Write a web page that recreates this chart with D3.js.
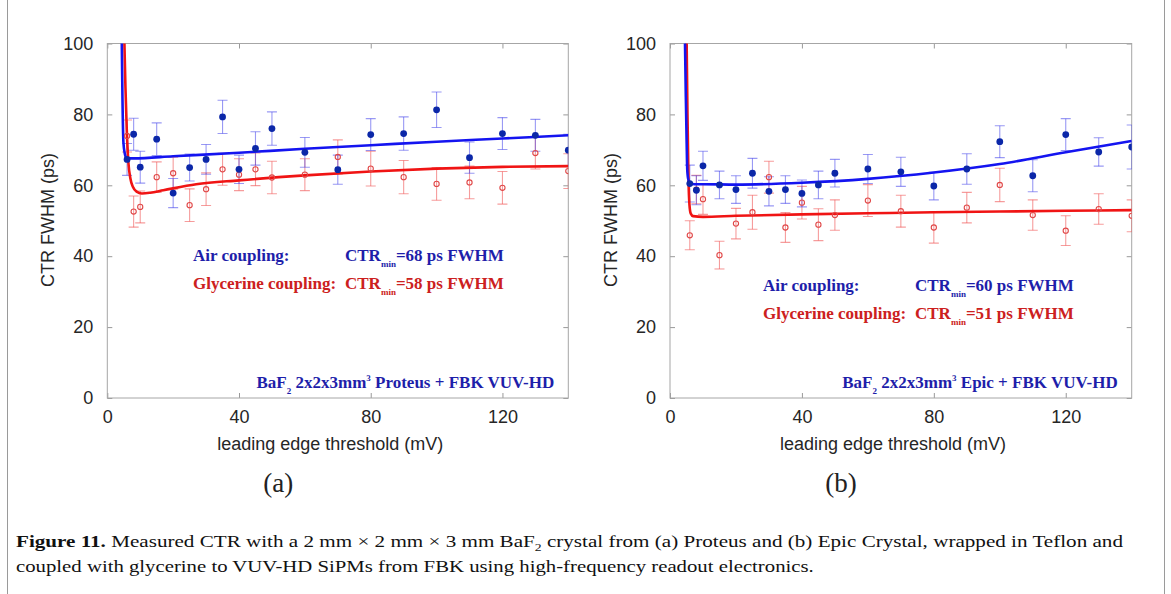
<!DOCTYPE html>
<html>
<head>
<meta charset="utf-8">
<title>CTR vs leading edge threshold</title>
<script src="https://d3js.org/d3.v7.min.js"></script>
<style>
  body { margin: 0; background: #fff; }
  svg { display: block; }
  .tick text { font-family: "Liberation Sans", Arial, sans-serif; }
</style>
</head>
<body>
<div id="chart"></div>
<script>
// thresholds (mV)
var thresholds = [6, 8, 10, 15, 20, 25, 30, 35, 40, 45, 50, 60, 70, 80, 90, 100, 110, 120, 130, 140];

// (a) Proteus
var airA    = [67.3, 74.4, 65.1, 73.0, 57.8, 65.0, 67.3, 79.3, 64.5, 70.4, 76.0, 69.3, 64.4, 74.3, 74.6, 81.3, 67.8, 74.6, 74.1, 69.9];
var airErrA = [4.5, 4.5, 4.5, 4.6, 4.1, 3.8, 4.2, 4.7, 4.0, 4.7, 4.7, 4.2, 4.1, 4.5, 4.7, 5.0, 4.4, 4.5, 4.5, 4.5];
var glyA    = [73.9, 52.6, 53.9, 62.3, 63.4, 54.4, 58.9, 64.5, 63.0, 64.5, 62.2, 63.0, 68.0, 64.7, 62.3, 60.4, 60.8, 59.3, 69.1, 64.0];
var glyErrA = [4.5, 4.4, 4.5, 4.3, 4.5, 4.6, 4.6, 4.5, 4.5, 4.6, 4.6, 4.5, 4.8, 4.9, 4.7, 4.6, 4.6, 4.6, 4.5, 4.9];

// (b) Epic
var airB    = [60.5, 58.6, 65.5, 60.1, 58.8, 63.4, 58.3, 58.8, 57.7, 60.1, 63.4, 64.6, 63.8, 59.8, 64.6, 72.3, 62.7, 74.3, 69.4, 70.8];
var airErrB = [5.2, 4.1, 4.1, 3.9, 3.9, 4.2, 4.1, 3.9, 3.8, 3.9, 3.9, 4.1, 4.1, 3.9, 4.3, 4.5, 4.5, 4.5, 4.0, 6.2];
var glyB    = [45.9, 58.8, 56.1, 40.3, 49.2, 52.4, 62.3, 48.1, 55.1, 48.9, 51.6, 55.7, 52.7, 48.1, 53.7, 60.1, 51.6, 47.2, 53.3, 51.4];
var glyErrB = [4.1, 4.0, 4.3, 3.9, 4.3, 4.8, 4.5, 4.2, 4.6, 4.5, 4.3, 4.5, 4.5, 4.4, 4.3, 4.7, 4.3, 4.2, 4.3, 4.5];

// fitted curves
var fitAirAx = [4.2, 4.4, 4.6, 4.9, 5.3, 5.9, 8, 20, 40, 60, 80, 100, 120, 140];
var fitAirAy = [108, 100, 85, 72, 69, 67.6, 67.6, 68.2, 69.2, 70.3, 71.3, 72.3, 73.2, 74.1];
var fitGlyAx = [5.0, 5.2, 5.5, 5.9, 6.4, 7.0, 7.8, 8.9, 10.5, 13, 17, 27, 40, 60, 80, 100, 120, 140];
var fitGlyAy = [108, 100, 88, 76, 66.5, 62, 59.5, 58.2, 57.7, 57.9, 58.6, 60.3, 61.4, 62.8, 63.9, 64.7, 65.2, 65.4];
var fitAirBx = [4.45, 4.55, 4.8, 5.05, 5.25, 5.6, 6.2, 7.5, 10, 20, 40, 60, 80, 100, 120, 140];
var fitAirBy = [108, 100, 85, 72, 64, 61.5, 60.6, 60.3, 60.3, 60.2, 60.7, 61.8, 63.6, 66.0, 69.3, 72.5];
var fitGlyBx = [4.95, 5.05, 5.3, 5.6, 5.9, 6.3, 7, 10, 20, 40, 60, 80, 100, 120, 140];
var fitGlyBy = [108, 100, 80, 62, 54.5, 52, 51.3, 51.1, 51.4, 51.8, 52.1, 52.4, 52.6, 52.8, 53.0];

var xTicks = [0, 40, 80, 120];
var yTicks = [0, 20, 40, 60, 80, 100];

var W = 1171, H = 594;
var svg = d3.select("#chart").append("svg").attr("width", W).attr("height", H);

// figure frame (left/right rules)
svg.append("line").attr("x1", 7.5).attr("x2", 7.5).attr("y1", 0).attr("y2", H).attr("stroke", "#9a9a9a");
svg.append("line").attr("x1", 1164.5).attr("x2", 1164.5).attr("y1", 0).attr("y2", H).attr("stroke", "#9a9a9a");

var BLUE_LINE = "#1414f0", RED_LINE = "#f01414";
var BLUE_DOT = "#0b27a8", RED_DOT = "#e04848";
var BLUE_ERR = "rgba(70,70,235,0.55)", RED_ERR = "rgba(240,90,90,0.6)";
var BLUE_TXT = "#1e1eaa", RED_TXT = "#cc2020";

function pairs(xs, ys) { return xs.map(function(x, i) { return [x, ys[i]]; }); }

function drawPanel(p) {
    var x = d3.scaleLinear().domain([0, 140]).range([p.left, p.right]);
    var y = d3.scaleLinear().domain([0, 100]).range([398, 43.5]);
    var g = svg.append("g");

    var clipId = "clip" + p.id;
    svg.append("clipPath").attr("id", clipId).append("rect")
        .attr("x", p.left).attr("y", 43.5).attr("width", p.right - p.left).attr("height", 398 - 43.5);

    // axes: ticks inward, box
    g.append("g").attr("transform", "translate(0,398)")
        .call(d3.axisBottom(x).tickValues(xTicks).tickSizeInner(-5).tickSizeOuter(0).tickPadding(12))
        .call(function(a) {
            a.select(".domain").remove();
            a.selectAll("line").attr("stroke", "#999");
            a.selectAll("text").attr("font-size", 18).attr("fill", "#262626");
        });
    g.append("g").attr("transform", "translate(0,43.5)")
        .call(d3.axisTop(x).tickValues(xTicks).tickSizeInner(-5).tickSizeOuter(0).tickFormat(""))
        .call(function(a) { a.select(".domain").remove(); a.selectAll("line").attr("stroke", "#999"); });
    g.append("g").attr("transform", "translate(" + p.left + ",0)")
        .call(d3.axisLeft(y).tickValues(yTicks).tickSizeInner(-5).tickSizeOuter(0).tickPadding(14))
        .call(function(a) {
            a.select(".domain").remove();
            a.selectAll("line").attr("stroke", "#999");
            a.selectAll("text").attr("font-size", 18).attr("fill", "#262626");
        });
    g.append("g").attr("transform", "translate(" + p.right + ",0)")
        .call(d3.axisRight(y).tickValues(yTicks).tickSizeInner(-5).tickSizeOuter(0).tickFormat(""))
        .call(function(a) { a.select(".domain").remove(); a.selectAll("line").attr("stroke", "#999"); });
    g.append("rect").attr("x", p.left).attr("y", 43.5).attr("width", p.right - p.left).attr("height", 398 - 43.5)
        .attr("fill", "none").attr("stroke", "#a6a6a6").attr("stroke-width", 1);

    // axis titles
    g.append("text").attr("x", p.left + 223).attr("y", 450).attr("text-anchor", "middle")
        .attr("font-family", "Liberation Sans, Arial, sans-serif").attr("font-size", 18).attr("fill", "#262626")
        .text("leading edge threshold (mV)");
    g.append("text").attr("transform", "translate(" + (p.left - 53) + ",220) rotate(-90)")
        .attr("text-anchor", "middle")
        .attr("font-family", "Liberation Sans, Arial, sans-serif").attr("font-size", 18).attr("fill", "#262626")
        .text("CTR FWHM (ps)");
    g.append("text").attr("x", p.left + 171).attr("y", 492).attr("text-anchor", "middle")
        .attr("font-family", "Liberation Serif, DejaVu Serif, serif").attr("font-size", 27).attr("fill", "#222")
        .text(p.tag);

    var plot = g.append("g").attr("clip-path", "url(#" + clipId + ")");

    function errorBars(vals, errs, color) {
        var eb = plot.append("g").attr("stroke", color).attr("stroke-width", 1.1).attr("fill", "none");
        thresholds.forEach(function(t, i) {
            var cx = x(t), y1 = y(vals[i] + errs[i]), y2 = y(vals[i] - errs[i]);
            eb.append("line").attr("x1", cx).attr("x2", cx).attr("y1", y1).attr("y2", y2);
            eb.append("line").attr("x1", cx - 5).attr("x2", cx + 5).attr("y1", y1).attr("y2", y1);
            eb.append("line").attr("x1", cx - 5).attr("x2", cx + 5).attr("y1", y2).attr("y2", y2);
        });
    }
    errorBars(p.gly, p.glyErr, RED_ERR);
    errorBars(p.air, p.airErr, BLUE_ERR);

    var line = d3.line().x(function(d) { return x(d[0]); }).y(function(d) { return y(d[1]); })
        .curve(d3.curveMonotoneX);
    plot.append("path").datum(pairs(p.fitGlyX, p.fitGlyY)).attr("d", line)
        .attr("fill", "none").attr("stroke", RED_LINE).attr("stroke-width", 2.6);
    plot.append("path").datum(pairs(p.fitAirX, p.fitAirY)).attr("d", line)
        .attr("fill", "none").attr("stroke", BLUE_LINE).attr("stroke-width", 2.6);

    plot.selectAll("circle.gly").data(p.gly).enter().append("circle").attr("class", "gly")
        .attr("cx", function(d, i) { return x(thresholds[i]); }).attr("cy", function(d) { return y(d); })
        .attr("r", 2.6).attr("fill", "none").attr("stroke", RED_DOT).attr("stroke-width", 1.1);
    plot.selectAll("circle.air").data(p.air).enter().append("circle").attr("class", "air")
        .attr("cx", function(d, i) { return x(thresholds[i]); }).attr("cy", function(d) { return y(d); })
        .attr("r", 3.4).attr("fill", BLUE_DOT);

    // annotations
    var serif = "Liberation Serif, Times New Roman, serif";
    function ctrLine(xl, xc, yb, label, val, color) {
        g.append("text").attr("x", xl).attr("y", yb).attr("font-family", serif).attr("font-weight", "bold")
            .attr("font-size", 17).attr("fill", color).text(label);
        var t = g.append("text").attr("x", xc).attr("y", yb).attr("font-family", serif).attr("font-weight", "bold")
            .attr("font-size", 17).attr("fill", color);
        t.append("tspan").text("CTR");
        t.append("tspan").attr("font-size", 9).attr("dy", 6).text("min");
        t.append("tspan").attr("dy", -6).text("=" + val + " ps FWHM");
    }
    ctrLine(p.txtLeft, p.txtCtr, p.txtY, "Air coupling:", p.minAir, BLUE_TXT);
    ctrLine(p.txtLeft, p.txtCtr, p.txtY + 28, "Glycerine coupling:", p.minGly, RED_TXT);

    var b = g.append("text").attr("x", p.right - 14).attr("y", 388).attr("text-anchor", "end")
        .attr("font-family", serif).attr("font-weight", "bold").attr("font-size", 17).attr("fill", BLUE_TXT);
    b.append("tspan").text("BaF");
    b.append("tspan").attr("font-size", 9).attr("dy", 6).text("2");
    b.append("tspan").attr("dy", -6).text(" 2x2x3mm");
    b.append("tspan").attr("font-size", 9).attr("dy", -7).text("3");
    b.append("tspan").attr("dy", 7).text(" " + p.crystal + " + FBK VUV-HD");
}

drawPanel({ id: "a", tag: "(a)", left: 107.3, right: 568.3,
    air: airA, airErr: airErrA, gly: glyA, glyErr: glyErrA,
    fitAirX: fitAirAx, fitAirY: fitAirAy, fitGlyX: fitGlyAx, fitGlyY: fitGlyAy,
    minAir: 68, minGly: 58, txtLeft: 193, txtCtr: 345, txtY: 261, crystal: "Proteus" });
drawPanel({ id: "b", tag: "(b)", left: 670, right: 1131.7,
    air: airB, airErr: airErrB, gly: glyB, glyErr: glyErrB,
    fitAirX: fitAirBx, fitAirY: fitAirBy, fitGlyX: fitGlyBx, fitGlyY: fitGlyBy,
    minAir: 60, minGly: 51, txtLeft: 763, txtCtr: 915, txtY: 291, crystal: "Epic" });

// caption
var cap = svg.append("g").attr("font-family", "Liberation Serif, Times New Roman, serif")
    .attr("font-size", 17).attr("fill", "#111");
var l1 = cap.append("text").attr("x", 0).attr("y", 0);
l1.append("tspan").attr("font-weight", "bold").text("Figure 11.");
l1.append("tspan").text(" Measured CTR with a 2 mm \u00d7 2 mm \u00d7 3 mm BaF");
l1.append("tspan").attr("font-size", 11).attr("dy", 4).text("2");
l1.append("tspan").attr("dy", -4).text(" crystal from (a) Proteus and (b) Epic Crystal, wrapped in Teflon and");
var l2 = cap.append("text").attr("x", 0).attr("y", 0)
    .text("coupled with glycerine to VUV-HD SiPMs from FBK using high-frequency readout electronics.");

function fitWidth(sel, x0, yb, target) {
    var w = sel.node().getComputedTextLength();
    sel.attr("transform", "translate(" + x0 + "," + yb + ") scale(" + (target / w) + ",1)");
}
fitWidth(l1, 16, 547, 1108);
fitWidth(l2, 16, 572, 798);
</script>
</body>
</html>
